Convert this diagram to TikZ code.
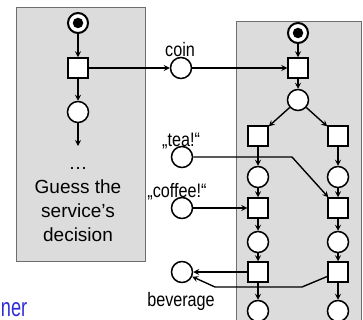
\documentclass[tikz,border=0pt]{standalone}
\usepackage{fontspec}
\setmainfont{Liberation Sans}
\newfontfamily\lblfont[FakeStretch=0.83]{Liberation Sans}
\newfontfamily\titlefont[FakeStretch=0.7]{Liberation Sans}
\usetikzlibrary{arrows.meta}
\definecolor{boxgray}{RGB}{220,220,220}
\definecolor{boxedge}{RGB}{110,110,110}
\definecolor{headblue}{RGB}{45,45,215}
\tikzset{
  place/.style={circle,draw=black,fill=white,line width=1.5pt,minimum size=21pt,inner sep=0pt},
  marked/.style={place,line width=2pt,minimum size=20pt},
  token/.style={circle,fill=black,minimum size=10.5pt,inner sep=0pt},
  trans/.style={rectangle,draw=black,fill=white,line width=1.5pt,minimum size=20pt,inner sep=0pt},
  arc/.style={line width=1.4pt,-{Stealth[length=6pt,width=6pt,inset=2.3pt]}},
  lane/.style={fill=boxgray,draw=boxedge,line width=1pt},
  lbl/.style={font=\lblfont\fontsize{19.5}{21}\selectfont,inner sep=0pt,anchor=base},
  body/.style={font=\fontsize{19}{21}\selectfont,inner sep=0pt,anchor=base}
}
\begin{document}
\begin{tikzpicture}[x=1pt,y=-1pt]
\useasboundingbox (0,0) rectangle (363,320);
\begin{scope}
\clip (0,0) rectangle (363,320);
% the two partner lanes
\draw[lane] (16,8) rectangle (145,261);
\draw[lane] (236,22) rectangle (361,340);

% left lane: customer net
\node[marked] (c0) at (78,23) {};
\node[token] at (c0) {};
\node[trans] (ct1) at (78,68) {};
\node[place] (c1) at (78,112) {};
\coordinate (cend) at (78,146);
\draw[arc] (c0) -- (ct1);
\draw[arc] (ct1) -- (c1);
\draw[arc] (c1) -- (cend);
\node[body] (dots) at (78,170) {…};
\node[body] (g1) at (78,193) {Guess the};
\node[body] (g2) at (78,217) {service’s};
\node[body] (g3) at (78,241) {decision};

% interface places
\node[place] (coin) at (181,68) {};
\node[lbl] (coinl) at (180,57) {coin};
\node[place] (tea) at (182,157) {};
\node[lbl] (teal) at (181,147) {„tea!“};
\node[place] (coffee) at (182,208) {};
\node[lbl] (coffeel) at (177,197) {„coffee!“};
\node[place] (bev) at (182,272) {};
\node[lbl] (bevl) at (181,306) {beverage};

% right lane: vending machine net
\node[marked] (s0) at (298,33) {};
\node[token] at (s0) {};
\node[trans] (st1) at (298,68) {};
\node[place] (s1) at (298,100) {};
\node[trans] (tl1) at (258,136) {};
\node[trans] (tr1) at (338,136) {};
\node[place] (pl1) at (258,177) {};
\node[place] (pr1) at (338,177) {};
\node[trans] (tl2) at (258,208) {};
\node[trans] (tr2) at (338,208) {};
\node[place] (pl2) at (258,242) {};
\node[place] (pr2) at (338,242) {};
\node[trans] (tl3) at (258,272) {};
\node[trans] (tr3) at (338,272) {};
\node[place] (pl3) at (258,311) {};
\node[place] (pr3) at (338,311) {};

\draw[arc] (s0) -- (st1);
\draw[arc] (st1) -- (s1);
\draw[arc] (s1) -- (tl1);
\draw[arc] (s1) -- (tr1);
\foreach \a/\b in {tl1/pl1,pl1/tl2,tl2/pl2,pl2/tl3,tl3/pl3,
                   tr1/pr1,pr1/tr2,tr2/pr2,pr2/tr3,tr3/pr3}
  \draw[arc] (\a) -- (\b);

% message flow between the partners
\draw[arc] (ct1) -- (coin);
\draw[arc] (coin) -- (st1);
\coordinate (teabend) at (292,157);
\draw[arc] (tea) -- (teabend) -- (tr2);
\draw[arc] (coffee) -- (tl2);
\draw[arc] (tl3) -- (bev);
\coordinate (bv1) at (302,287);
\coordinate (bv2) at (215,287);
\draw[arc] (tr3) -- (bv1) -- (bv2) -- (bev);

% heading fragment
\node[font=\titlefont\fontsize{26}{28}\selectfont,text=headblue,inner sep=0pt,anchor=base west] (head) at (0.8,316) {ner};
\end{scope}
\end{tikzpicture}
\end{document}
